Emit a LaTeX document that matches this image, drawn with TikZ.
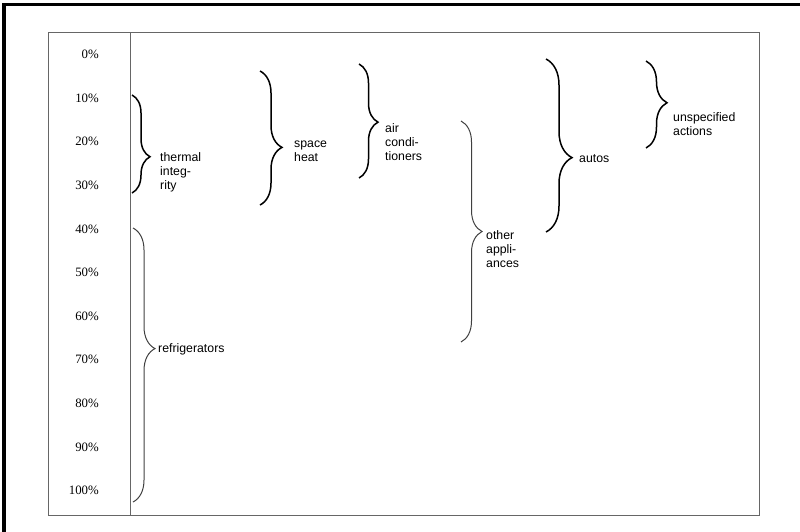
\documentclass[tikz,border=0pt]{standalone}
\usepackage{fontspec}
\setmainfont{Liberation Serif}
\newfontfamily\labfont{Liberation Sans}
\usetikzlibrary{decorations.pathreplacing}
\begin{document}
\begin{tikzpicture}[x=1pt,y=-1pt,
  frameline/.style={line width=3.2pt,black},
  boxline/.style={line width=0.8pt,black!60},
  bracedec/.style 2 args={decorate,decoration={brace,amplitude=#1,aspect=#2}},
  bold brace/.style={line width=1.5pt,black},
  thin brace/.style={line width=1pt,black!75},
  pct/.style={anchor=east,inner sep=0pt,font=\fontsize{12.8}{14}\selectfont},
  lab/.style={anchor=base west,inner sep=0pt,align=left,font=\labfont\fontsize{12.3}{14}\selectfont}]
\useasboundingbox (0,0) rectangle (800,531);
% outer frame (top and left edges visible)
\coordinate (fbl) at (4,535);
\coordinate (ftl) at (4,4.5);
\coordinate (ftr) at (805,4.5);
\draw[frameline] (fbl) -- (ftl) -- (ftr);
% inner box and divider
\coordinate (bxa) at (48,32);
\coordinate (bxb) at (759,515);
\draw[boxline] (bxa) rectangle (bxb);
\coordinate (dvt) at (130,32);
\coordinate (dvb) at (130,515);
\draw[boxline] (dvt) -- (dvb);
% percentage scale
\foreach \k in {0,...,10}{
  \pgfmathtruncatemacro{\pv}{10*\k}
  \node[pct] (p\k) at (99,{54.5+43.6*\k}) {\pv\%};
}
% braces
\coordinate (ta) at (132,95);  \coordinate (tb) at (132,193);
\draw[bold brace,bracedec={18pt}{0.63}] (ta) -- (tb);
\coordinate (ra) at (133,228); \coordinate (rb) at (133,502);
\draw[thin brace,bracedec={22pt}{0.44}] (ra) -- (rb);
\coordinate (sa) at (260,71);  \coordinate (sb) at (260,205);
\draw[bold brace,bracedec={22pt}{0.57}] (sa) -- (sb);
\coordinate (aa) at (359,64);  \coordinate (ab) at (359,178);
\draw[bold brace,bracedec={19pt}{0.51}] (aa) -- (ab);
\coordinate (oa) at (461,121); \coordinate (ob) at (461,342);
\draw[thin brace,bracedec={21pt}{0.50}] (oa) -- (ob);
\coordinate (ua) at (546,59);  \coordinate (ub) at (546,232);
\draw[bold brace,bracedec={26pt}{0.57}] (ua) -- (ub);
\coordinate (xa) at (646,61);  \coordinate (xb) at (646,148);
\draw[bold brace,bracedec={21pt}{0.48}] (xa) -- (xb);
% labels (base anchor = baseline of last line)
\node[lab] (lt) at (160,189) {thermal\\integ-\\rity};
\node[lab] (lr) at (158,352) {refrigerators};
\node[lab] (ls) at (294,161) {space\\heat};
\node[lab] (la) at (385,160) {air\\condi-\\tioners};
\node[lab] (lo) at (486,267) {other\\appli-\\ances};
\node[lab] (lu) at (579,162) {autos};
\node[lab] (lx) at (673,135) {unspecified\\actions};
\end{tikzpicture}
\end{document}
